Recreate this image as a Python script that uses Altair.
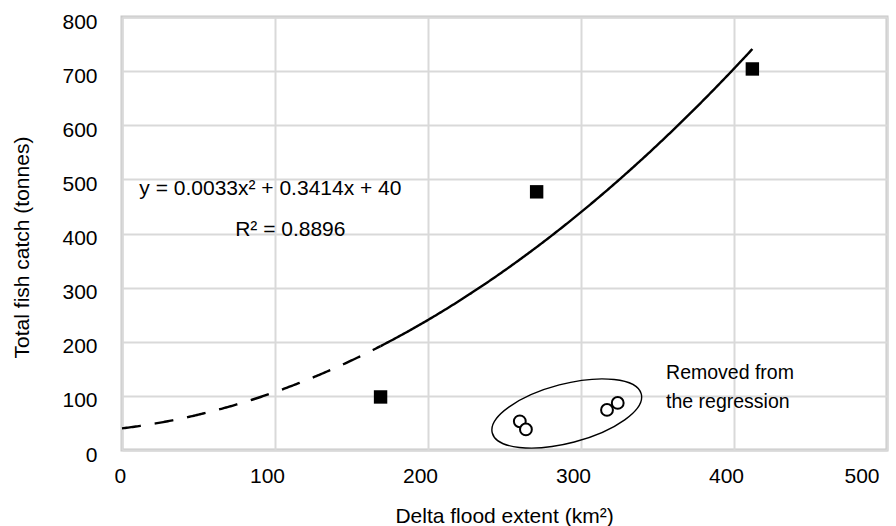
import altair as alt
import numpy as np
import pandas as pd

# Catch years used in the regression (flood extent km², catch tonnes)
fit_x = [169, 271, 412]
fit_y = [98, 477, 704]

# Years removed from the regression
removed_x = [260, 264, 317, 324]
removed_y = [53, 38, 74, 87]

# Polynomial trendline reported on the chart: y = a*x^2 + b*x + c
TREND_A = 0.0033
TREND_B = 0.3414
TREND_C = 40
TREND_R2 = 0.8896

# Range of the fitted data; the curve is extended back to zero as a dashed forecast
FIT_MIN = 169
FIT_MAX = 412

x_ticks = [0, 100, 200, 300, 400, 500]
y_ticks = [0, 100, 200, 300, 400, 500, 600, 700, 800]

FONT = "Liberation Sans"

def trend(xs):
    xs = np.asarray(xs, dtype=float)
    return TREND_A * xs ** 2 + TREND_B * xs + TREND_C

xs_back = np.arange(0, FIT_MIN + 1, 1.0)
xs_fit = np.arange(FIT_MIN, FIT_MAX + 1, 1.0)
back_df = pd.DataFrame({"x": xs_back, "y": trend(xs_back)})
fit_df = pd.DataFrame({"x": xs_fit, "y": trend(xs_fit)})

fit_pts = pd.DataFrame({"x": fit_x, "y": fit_y})
removed_pts = pd.DataFrame({"x": removed_x, "y": removed_y})

x_scale = alt.Scale(domain=[0, 500], nice=False, zero=False)
y_scale = alt.Scale(domain=[0, 800], nice=False, zero=False)

x_axis = alt.Axis(
    values=x_ticks, title="Delta flood extent (km²)", grid=True,
    domain=False, ticks=False, tickSize=0, labelPadding=15, labelOffset=-8,
    labelFontSize=21, titleFontSize=21, labelFont=FONT, titleFont=FONT,
    labelColor="#000000", titleColor="#000000", titleFontWeight="normal",
    titleBaseline="middle", titleY=66, titleX=382,
    gridColor="#d9d9d9", gridWidth=2,
)
y_axis = alt.Axis(
    values=y_ticks, title="Total fish catch (tonnes)", grid=True,
    domain=False, ticks=False, tickSize=0, labelPadding=25, labelOffset=5,
    labelFontSize=21, titleFontSize=21, labelFont=FONT, titleFont=FONT,
    labelColor="#000000", titleColor="#000000", titleFontWeight="normal",
    titleBaseline="middle", titleX=-100, titleY=230,
    gridColor="#d9d9d9", gridWidth=2,
)

base_x = alt.X("x:Q", scale=x_scale, axis=x_axis)
base_y = alt.Y("y:Q", scale=y_scale, axis=y_axis)

back_line = alt.Chart(back_df).mark_line(
    color="black", strokeWidth=2.4, strokeDash=[19, 14]
).encode(x=base_x, y=base_y)

fit_line = alt.Chart(fit_df).mark_line(
    color="black", strokeWidth=2.4
).encode(x=alt.X("x:Q", scale=x_scale), y=alt.Y("y:Q", scale=y_scale))

squares = alt.Chart(fit_pts).mark_point(
    shape="square", filled=True, color="black", size=180, opacity=1
).encode(x=alt.X("x:Q", scale=x_scale), y=alt.Y("y:Q", scale=y_scale))

circles = alt.Chart(removed_pts).mark_point(
    shape="circle", filled=True, fill="white", stroke="black",
    strokeWidth=2, size=140, opacity=1
).encode(x=alt.X("x:Q", scale=x_scale), y=alt.Y("y:Q", scale=y_scale))

# Ellipse drawn round the removed years
ring_df = pd.DataFrame({"x": [290.7], "y": [67.5]})
ring = alt.Chart(ring_df).mark_point(
    shape="M -1 0 A 1 0.383 0 1 1 1 0 A 1 0.383 0 1 1 -1 0 Z",
    filled=False, stroke="black", strokeWidth=1.4, size=23716,
    angle=345.3, opacity=1
).encode(x=alt.X("x:Q", scale=x_scale), y=alt.Y("y:Q", scale=y_scale))

eq_df = pd.DataFrame({
    "x": [97, 110],
    "y": [481.5, 405.7],
    "t": [
        f"y = {TREND_A}x² + {TREND_B}x + {TREND_C}",
        f"R² = {TREND_R2}",
    ],
})
eq_text = alt.Chart(eq_df).mark_text(
    font=FONT, fontSize=21, color="black", align="center", baseline="middle"
).encode(x=alt.X("x:Q", scale=x_scale), y=alt.Y("y:Q", scale=y_scale), text="t:N")

note_df = pd.DataFrame({
    "x": [355.6, 355.6],
    "y": [143, 88],
    "t": ["Removed from", "the regression"],
})
note_text = alt.Chart(note_df).mark_text(
    font=FONT, fontSize=19.5, color="black", align="left", baseline="middle"
).encode(x=alt.X("x:Q", scale=x_scale), y=alt.Y("y:Q", scale=y_scale), text="t:N")

chart = alt.layer(
    back_line, fit_line, ring, squares, circles, eq_text, note_text
).properties(
    width=765, height=433,
    autosize=alt.AutoSizeParams(type="none"),
    padding={"left": 122, "top": 17, "right": 9, "bottom": 76},
    background="white",
).configure_view(
    stroke="#c8c8c8", strokeWidth=3
)

chart.save("out.html", embed_options={"renderer": "svg", "actions": False})
